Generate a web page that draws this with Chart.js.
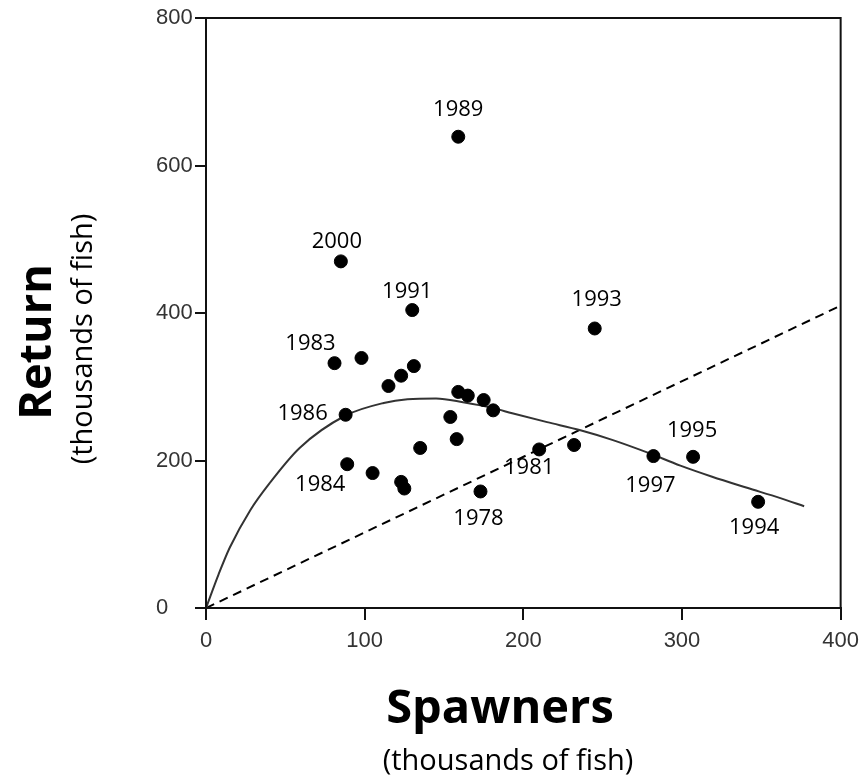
<!DOCTYPE html>
<html>
<head>
<meta charset="utf-8">
<title>Spawners vs Return</title>
<script src="https://cdn.jsdelivr.net/npm/chart.js@4.4.1/dist/chart.umd.min.js"></script>
<style>
  html, body { margin: 0; padding: 0; background: #fff; }
  #wrap { width: 867px; height: 780px; }
</style>
</head>
<body>
<div id="wrap"><canvas id="srChart" width="867" height="780"></canvas></div>
<script>
// observed brood years (thousands of fish)
const spawners = [159, 85, 130, 245, 81, 98, 131, 123, 115, 88, 159, 165, 175, 181, 154, 158, 135, 89, 105, 123, 125, 173, 210, 232, 282, 307, 348];
const returns  = [639, 470, 404, 379, 332, 339, 328, 315, 301, 262, 293, 288, 282, 268, 259, 229, 217, 195, 183, 171, 162, 158, 215, 221, 206, 205, 144];
const years    = ["1989", "2000", "1991", "1993", "1983", "", "", "", "", "1986", "", "", "", "", "", "", "", "1984", "", "", "", "1978", "1981", "", "1997", "1995", "1994"];

// fitted stock-recruit curve
const curveSpawners = [0, 8, 15, 28, 40, 59, 88, 112, 127, 145, 162, 181, 193, 215, 236, 256, 278, 299, 319, 341, 362, 377];
const curveReturns  = [0, 46, 82, 133, 169, 217, 261, 278, 283, 284, 279, 271, 264, 252, 241, 228, 211, 193, 178, 163, 149, 138];

// replacement line
const replaceSpawners = [0, 400];
const replaceReturns  = [0, 410];

const xTitle = "Spawners";
const yTitle = "Return";
const unitsText = "(thousands of fish)";

// where each year label sits relative to its point (px)
const labelOffsets = {
  "1989": [0, -27], "2000": [-4, -20], "1991": [-5, -18], "1993": [2, -29],
  "1983": [-24, -19], "1986": [-43, -1], "1984": [-27, 21], "1978": [-2, 27],
  "1981": [-10, 18], "1997": [-3, 30], "1995": [-1, -26], "1994": [-4, 26]
};

const yearLabels = {
  id: "yearLabels",
  afterDatasetsDraw(chart) {
    const meta = chart.getDatasetMeta(0);
    const ctx = chart.ctx;
    ctx.save();
    ctx.font = '22px "Open Sans"';
    ctx.fillStyle = "#000";
    ctx.textAlign = "center";
    ctx.textBaseline = "middle";
    meta.data.forEach((pt, i) => {
      const yr = years[i];
      if (!yr) return;
      const off = labelOffsets[yr];
      ctx.fillText(yr, pt.x + off[0], pt.y + off[1]);
    });
    ctx.restore();
  }
};

const frameAndTitles = {
  id: "frameAndTitles",
  afterDraw(chart) {
    const ctx = chart.ctx;
    const a = chart.chartArea;
    ctx.save();
    ctx.strokeStyle = "#111";
    ctx.lineWidth = 2;
    ctx.strokeRect(a.left, a.top, a.right - a.left, a.bottom - a.top);

    ctx.fillStyle = "#000";
    ctx.textAlign = "center";
    ctx.textBaseline = "alphabetic";
    ctx.font = 'bold 47px "Open Sans"';
    ctx.fillText(xTitle, 500, 723);
    ctx.font = '29px "Open Sans"';
    ctx.fillText(unitsText, 508, 770);

    ctx.translate(51, 342);
    ctx.rotate(-Math.PI / 2);
    ctx.font = 'bold 45px "Open Sans"';
    ctx.fillText(yTitle, 0, 0);
    ctx.font = '29px "Open Sans"';
    ctx.fillText(unitsText, 3, 41);
    ctx.restore();
  }
};

const tickFont = { family: '"Liberation Sans", Arial, sans-serif', size: 22 };

new Chart(document.getElementById("srChart"), {
  type: "scatter",
  data: {
    datasets: [
      {
        label: "Brood years",
        data: spawners.map((s, i) => ({ x: s, y: returns[i] })),
        backgroundColor: "#000",
        borderColor: "#000",
        pointRadius: 6.5,
        pointHoverRadius: 6.5,
        order: 1
      },
      {
        label: "Fitted curve",
        type: "line",
        data: curveSpawners.map((s, i) => ({ x: s, y: curveReturns[i] })),
        borderColor: "#333",
        borderWidth: 2,
        pointRadius: 0,
        fill: false,
        cubicInterpolationMode: "monotone",
        order: 2
      },
      {
        label: "Replacement",
        type: "line",
        data: replaceSpawners.map((s, i) => ({ x: s, y: replaceReturns[i] })),
        borderColor: "#000",
        borderWidth: 2,
        borderDash: [9, 6],
        pointRadius: 0,
        fill: false,
        order: 3
      }
    ]
  },
  options: {
    responsive: false,
    animation: false,
    layout: { padding: { top: 18, right: 26, left: 156, bottom: 0 } },
    plugins: {
      legend: { display: false },
      tooltip: { enabled: false }
    },
    scales: {
      x: {
        type: "linear",
        min: 0,
        max: 400,
        ticks: { stepSize: 100, color: "#333", font: tickFont, padding: 8 },
        grid: { drawOnChartArea: false, drawTicks: true, tickLength: 12, color: "#111", lineWidth: 2 },
        border: { display: true, color: "#111", width: 2 },
        afterFit: s => { s.height = 172; }
      },
      y: {
        min: 0,
        max: 800,
        ticks: { stepSize: 200, color: "#333", font: tickFont, padding: 2, crossAlign: "far" },
        grid: { drawOnChartArea: false, drawTicks: true, tickLength: 11, color: "#111", lineWidth: 2 },
        border: { display: true, color: "#111", width: 2 },
        afterFit: s => { s.width = 50; }
      }
    }
  },
  plugins: [yearLabels, frameAndTitles]
});
</script>
</body>
</html>
